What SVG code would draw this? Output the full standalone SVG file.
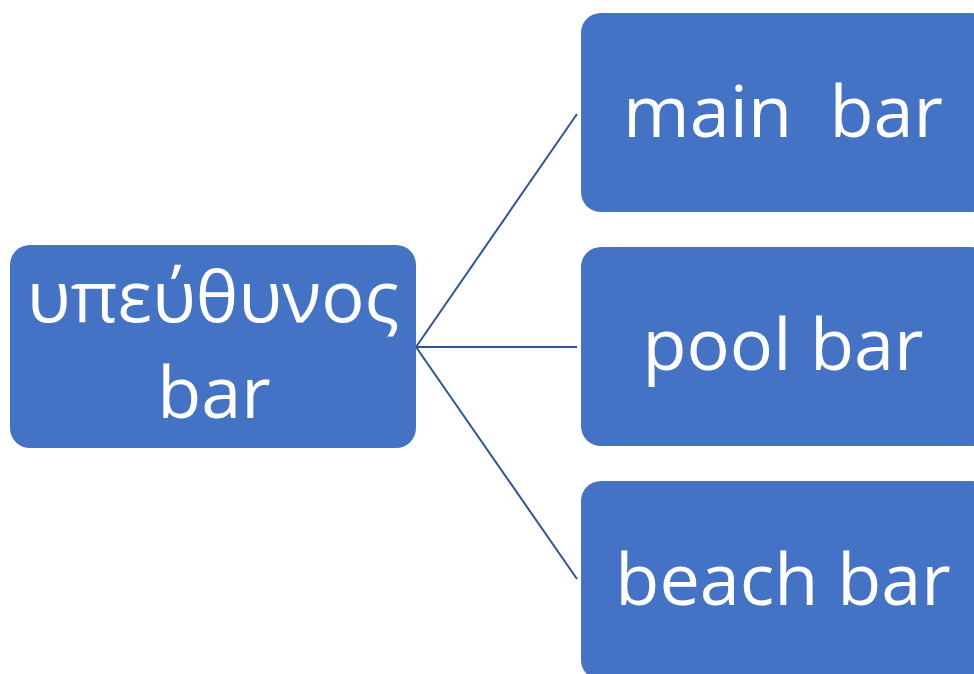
<svg xmlns="http://www.w3.org/2000/svg" width="974" height="674" viewBox="0 0 974 674">
  <style>
    .box { fill: #4472C4; }
    .lbl { fill: #FFFFFF; font-family: "Open Sans", "Noto Sans", "DejaVu Sans", sans-serif; font-size: 72px; text-anchor: middle; }
    .link { stroke: #2F5597; stroke-width: 2; fill: none; }
  </style>
  <rect width="974" height="674" fill="#FFFFFF"/>
  <g id="connectors">
    <line class="link" x1="416" y1="347" x2="577" y2="114"/>
    <line class="link" x1="416" y1="347" x2="577" y2="347"/>
    <line class="link" x1="416" y1="347" x2="577" y2="579"/>
  </g>
  <g id="node-manager">
    <rect class="box" x="10" y="245" width="406" height="203" rx="20"/>
    <text class="lbl" x="213" y="322">υπεύθυνος</text>
    <text class="lbl" x="214" y="418">bar</text>
  </g>
  <g id="node-main">
    <rect class="box" x="581" y="13" width="410" height="199" rx="20"/>
    <text class="lbl" x="783" y="137" xml:space="preserve">main  bar</text>
  </g>
  <g id="node-pool">
    <rect class="box" x="581" y="247" width="410" height="199" rx="20"/>
    <text class="lbl" x="783" y="370">pool bar</text>
  </g>
  <g id="node-beach">
    <rect class="box" x="581" y="481" width="410" height="199" rx="20"/>
    <text class="lbl" x="783" y="605">beach bar</text>
  </g>
</svg>
